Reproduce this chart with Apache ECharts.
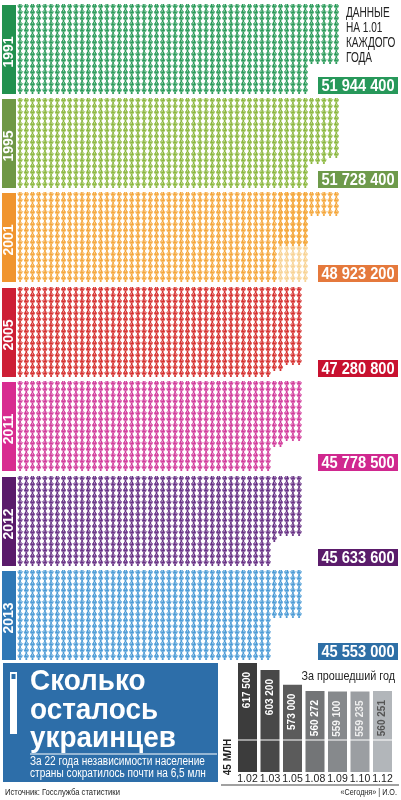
<!DOCTYPE html>
<html><head><meta charset="utf-8">
<script src="https://cdn.jsdelivr.net/npm/echarts/dist/echarts.min.js"></script>
<style>html,body{margin:0;padding:0;background:#fff}#c{width:401px;height:800px}</style>
</head><body><div id="c"></div>
<script>
// ---- data ----
const years = ['1991','1995','2001','2005','2011','2012','2013'];
const population = [51944400, 51728400, 48923200, 47280800, 45778500, 45633600, 45553000];
const fullRows = 15;
const fullColumns = [47, 47, 42, 41, 41, 41, 41];
const tail1991 = [10,10,10,10,10];
const tail1995 = [11,11,11,10,10];
const tail2001 = [9,9,9,9,9,4,4,4,4,4];
const tail2005 = [14,14,13,13,13];
const tail2011 = [11,11,10,10,10];
const tail2012 = [11,10,10,10,10];
const tail2013 = [8,8,8,8,8];
const faded2001 = [15,15,15,15,15];      // pale figures behind columns 43–47 of 2001
const fadedStart2001 = 42;
const monthLabels = ['1.02','1.03','1.05','1.08','1.09','1.10','1.12'];
const lastYearLoss = [617500, 603200, 573000, 560272, 559100, 559235, 560251];
const titleLines = ['Сколько','осталось','украинцев'];
const subtitleLines = ['За 22 года независимости население','страны сократилось почти на 6,5 млн'];

// ---- styles / layout ----
const tails = [tail1991, tail1995, tail2001, tail2005, tail2011, tail2012, tail2013];
const iconColors = ['#2b9b5a','#8cb83f','#f5a73b','#d6302f','#d23b9b','#673185','#4b9bd6'];
const tabColors  = ['#22914f','#6f9845','#f0952f','#cd1f35','#d82c90','#5a1b6b','#2f78b6'];
const boxColors  = ['#27985a','#6e9a4b','#e5793c','#c8112f','#d0288f','#5b1c6b','#2e6fa6'];
const fadedColor = '#f8d394';
const barColors = ['#3c3c3c','#484848','#5b5b5b','#737577','#86898c','#9b9ea2','#b2b6ba'];
const barLabelColors = ['#fff','#fff','#fff','#fff','#f4f4f4','#eeeeee','#555'];
const panelTop = [4, 98, 192, 287, 381, 476, 570];
const SANS = '"Liberation Sans",Arial,sans-serif';
const COLS = 52;
const PERSON = 'path://M5,0 C6.1,0 7,0.9 7,2 C7,3.1 6.1,4 5,4 C3.9,4 3,3.1 3,2 C3,0.9 3.9,0 5,0 Z M2.5,4.4 L7.5,4.4 C8.5,4.4 9,5 9.2,5.8 L10,9.6 L8.7,9.8 L7.7,6.6 L7.7,12 L5.4,12 L5.4,8.6 L4.6,8.6 L4.6,12 L2.3,12 L2.3,6.6 L1.3,9.8 L0,9.6 L0.8,5.8 C1,5 1.5,4.4 2.5,4.4 Z';

function fmt(n){ return String(n).replace(/\B(?=(\d{3})+(?!\d))/g, ' '); }
function txt(x, y, text, font, fill, align, vAlign, extra){
  return Object.assign({type: 'text', x: x, y: y,
    style: {text: text, fill: fill, font: font, textAlign: align, textVerticalAlign: vAlign, align: align, verticalAlign: vAlign}}, extra || {});
}

const colCats = Array.from({length: COLS}, (_, k) => String(k + 1));
const grid = [], xAxis = [], yAxis = [], series = [], graphic = [];

years.forEach((yr, i) => {
  const top = panelTop[i];
  grid.push({left: 17, top: top, width: COLS * 6.2, height: 90});
  xAxis.push({gridIndex: i, type: 'category', data: colCats, show: false, boundaryGap: true});
  yAxis.push({gridIndex: i, type: 'value', min: 0, max: fullRows, inverse: true, show: false});
  const cols = new Array(fullColumns[i]).fill(fullRows).concat(tails[i]);
  if (yr === '2001') {
    const fd = new Array(fadedStart2001).fill(null).concat(faded2001);
    series.push({type: 'pictorialBar', xAxisIndex: i, yAxisIndex: i, data: fd, symbol: PERSON,
      symbolRepeat: true, symbolSize: [5.3, 6], symbolMargin: 0, symbolPosition: 'start',
      barGap: '-100%', itemStyle: {color: fadedColor}, silent: true, z: 2, animation: false});
  }
  series.push({type: 'pictorialBar', xAxisIndex: i, yAxisIndex: i, data: cols, symbol: PERSON,
    symbolRepeat: true, symbolSize: [5.3, 6], symbolMargin: 0, symbolPosition: 'start',
    barGap: '-100%', itemStyle: {color: iconColors[i]}, silent: true, z: 3, animation: false});

  graphic.push({type: 'rect', shape: {x: 2, y: top + 1, width: 14, height: 89}, style: {fill: tabColors[i]}});
  graphic.push(txt(9.5, top + 48, yr, 'bold 14px ' + SANS, '#fff', 'center', 'middle', {rotation: Math.PI / 2}));
  graphic.push({type: 'rect', shape: {x: 318, y: top + 73, width: 80, height: 17}, style: {fill: boxColors[i]}});
  graphic.push(txt(358, top + 82, fmt(population[i]), 'bold 17px ' + SANS, '#fff', 'center', 'middle', {scaleX: 0.86}));
});

// note
graphic.push(txt(346, 6, 'ДАННЫЕ\nНА 1.01\nКАЖДОГО\nГОДА', '14px ' + SANS, '#222', 'left', 'top', {scaleX: 0.72}));
graphic[graphic.length - 1].style.lineHeight = 15;

// title box
graphic.push({type: 'rect', shape: {x: 3, y: 663, width: 215, height: 119}, style: {fill: '#2d6ea9'}});
graphic.push({type: 'rect', shape: {x: 10, y: 672, width: 7, height: 62}, style: {fill: '#fff'}});
graphic.push({type: 'rect', shape: {x: 11.5, y: 674, width: 4, height: 5}, style: {fill: '#2d6ea9'}});
const titleY = [682, 711, 739];
titleLines.forEach((t, k) => graphic.push(txt(30, titleY[k], t, 'bold 30px ' + SANS, '#fff', 'left', 'middle', {scaleX: 0.93})));
graphic.push({type: 'line', shape: {x1: 30, y1: 754, x2: 217, y2: 754}, style: {stroke: '#fff', lineWidth: 1}});
const subY = [762, 774];
subtitleLines.forEach((t, k) => graphic.push(txt(30, subY[k], t, '12px ' + SANS, '#fff', 'left', 'middle', {scaleX: 0.84})));
graphic.push(txt(5, 793, 'Источник: Госслужба статистики', '9px ' + SANS, '#222', 'left', 'middle', {scaleX: 0.85}));

// small bar chart decorations
graphic.push(txt(395, 676, 'За прошедший год', '13px ' + SANS, '#222', 'right', 'middle', {scaleX: 0.83}));
graphic.push(txt(228, 757, '45 МЛН', 'bold 10px ' + SANS, '#222', 'center', 'middle', {rotation: Math.PI / 2}));
graphic.push({type: 'line', z: 100, shape: {x1: 236, y1: 740, x2: 394, y2: 740}, style: {stroke: '#fff', lineWidth: 1.2}});
graphic.push({type: 'line', shape: {x1: 221, y1: 785, x2: 399, y2: 785}, style: {stroke: '#444', lineWidth: 1.2}});
graphic.push(txt(397, 793, '«Сегодня» | И.О.', '8.5px ' + SANS, '#222', 'right', 'middle', {scaleX: 0.85}));

const gi = years.length;
grid.push({left: 236.25, top: 663, width: 157.5, height: 109});
xAxis.push({gridIndex: gi, type: 'category', data: monthLabels, axisLine: {show: false}, axisTick: {show: false},
  axisLabel: {color: '#222', fontSize: 10.5, fontFamily: SANS, margin: 2, interval: 0}});
yAxis.push({gridIndex: gi, type: 'value', min: 395000, max: 617500, show: false});
series.push({type: 'bar', xAxisIndex: gi, yAxisIndex: gi, barWidth: 19, silent: true, animation: false,
  data: lastYearLoss.map((v, k) => ({value: v, itemStyle: {color: barColors[k]},
    label: {color: barLabelColors[k]}})),
  label: {show: true, position: 'insideTop', rotate: 90, align: 'right', verticalAlign: 'middle', distance: 9,
    fontSize: 10, fontWeight: 'bold', fontFamily: SANS, formatter: p => fmt(p.value)}});

const chart = echarts.init(document.getElementById('c'));
chart.setOption({animation: false, grid, xAxis, yAxis, series, graphic: {elements: graphic}});
</script>
</body></html>
